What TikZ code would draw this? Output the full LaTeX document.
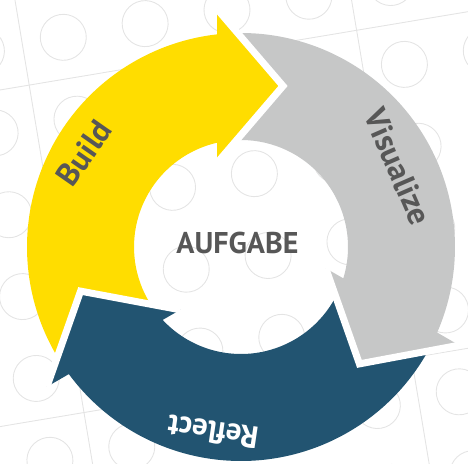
\documentclass[tikz,border=0pt]{standalone}
\usepackage{fontspec}
\setmainfont{PT Sans}
\usepackage{tikz}
\usetikzlibrary{positioning}
\usepackage{xcolor}
\definecolor{cyyellow}{RGB}{255,221,0}
\definecolor{cygray}{RGB}{198,199,199}
\definecolor{cyblue}{RGB}{34,84,113}
\definecolor{cytext}{RGB}{87,87,87}
\definecolor{cygrid}{RGB}{228,228,228}
\tikzstyle{plateline} = [draw=cygrid, line width=0.9pt]
\tikzstyle{stud} = [draw=cygrid, line width=0.9pt]
\tikzstyle{gap} = [draw=white, line width=7pt, miter limit=10]
\tikzstyle{cyclelabel} = [inner sep=0pt, text=cytext, font=\bfseries]

\begin{document}
\begin{tikzpicture}[x=1pt, y=1pt]
\useasboundingbox (-241,-216) rectangle (227,247);

% Background plate
\begin{scope}
\clip (-241,-216) rectangle (227,247);
\begin{scope}[shift={(-211.8,161.9)}, rotate=9.5]
\foreach \k in {-1,...,2} {
  \draw[plateline] (\k*332,-700) -- (\k*332,400);
  \draw[plateline] (-400,-\k*332) -- (800,-\k*332);
}
\foreach \i in {-2,...,5}
  \foreach \j in {-6,...,1}
    \draw[stud] (41.5+\i*83,41.5+\j*83) circle (23);
\end{scope}
\end{scope}

% Three arrows of the cycle
\foreach \rot/\col in {0/cyyellow, -120/cygray, 120/cyblue}
  \fill[\col, rotate=\rot] (210.91:214) arc[start angle=210.91, end angle=96.44, radius=214]
    -- (-24,238) -- (42,161) -- (-24,84) -- (102.96:107)
    arc[start angle=102.96, end angle=212.36, radius=107] -- (-160.4,-44.1) -- cycle;

% White gaps in front of the heads
\foreach \rot in {0,-120,120}
  \draw[gap, rotate=\rot] (-24,238) -- (42,161) -- (-24,84);

% Labels
\node (aufgabe) [cyclelabel, font=\fontsize{30}{32}\selectfont\bfseries] at (-3.5,4.5) {AUFGABE};
\node (build) [cyclelabel, font=\fontsize{32}{34}\selectfont\bfseries, rotate=55] at (-157,94) {Build};
\node (visualize) [cyclelabel, font=\fontsize{32}{34}\selectfont\bfseries, rotate=-66.5] at (157,80) {Visualize};
\node (reflect) [cyclelabel, font=\fontsize{31}{32}\selectfont\bfseries, rotate=171.6, text=white] at (-28,-185) {Reflect};
\end{tikzpicture}
\end{document}
